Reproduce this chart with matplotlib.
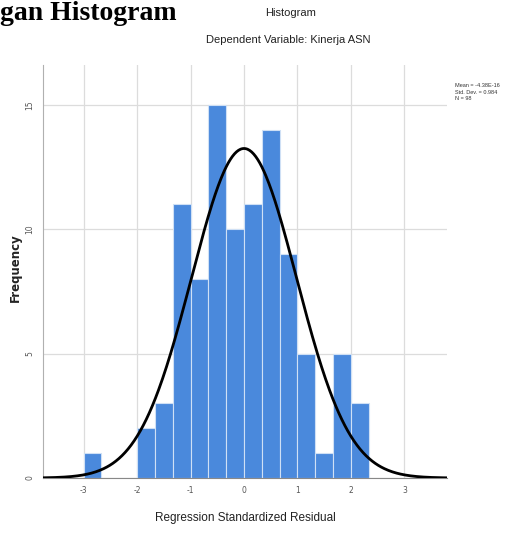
import numpy as np
import matplotlib
matplotlib.use("Agg")
import matplotlib.pyplot as plt

# bin edges (width 1/3) and counts
bin_left = [-3.0, -2.0, -5/3, -4/3, -1.0, -2/3, -1/3, 0.0, 1/3, 2/3, 1.0, 4/3, 5/3, 2.0]
counts = [1, 2, 3, 11, 8, 15, 10, 11, 14, 9, 5, 1, 5, 3]
bin_width = 1/3

mean_val = 0.0
sd_val = 0.984
n_val = 98

x_ticks = [-3, -2, -1, 0, 1, 2, 3]
y_ticks = [0, 5, 10, 15]

sans = ['Liberation Sans Narrow', 'Liberation Sans', 'DejaVu Sans']

fig = plt.figure(figsize=(5.09, 5.35), dpi=100)
ax = fig.add_axes([0.0845, 0.1065, 0.794, 0.772])

ax.bar(bin_left, counts, width=bin_width, align='edge',
       color='#4a89dc', edgecolor='#cfe0f5', linewidth=0.8, zorder=2)

# normal curve scaled to counts
xs = np.linspace(-3.76, 3.8, 400)
ys = n_val * bin_width * np.exp(-0.5 * ((xs - mean_val) / sd_val) ** 2) / (sd_val * np.sqrt(2 * np.pi))
ax.plot(xs, ys, color='black', lw=2, zorder=3)

ax.set_xlim(-3.76, 3.8)
ax.set_ylim(0, 16.6)
ax.set_xticks(x_ticks)
ax.set_yticks(y_ticks)
ax.set_xticklabels([str(t) for t in x_ticks], fontsize=5.5, color='#555555')
ax.set_yticklabels([str(t) for t in y_ticks], fontsize=5.5, color='#555555',
                   rotation=90, va='center')
ax.tick_params(length=0, pad=6)
ax.grid(True, color='#dcdcdc', lw=0.9, zorder=0)
ax.set_axisbelow(True)
for s in ['top', 'right']:
    ax.spines[s].set_visible(False)
ax.spines['left'].set_color('#b0b0b0')
ax.spines['bottom'].set_color('#888888')

ax.set_xlabel('Regression Standardized Residual', fontsize=8.5, family=sans,
              color='#222222', labelpad=12)
fig.text(15 / 509, 0.5, 'Frequency', rotation=90, ha='center', va='center',
         fontsize=8.5, fontweight='bold', color='#222222')

fig.text(0.57, 0.975, 'Histogram', ha='center', va='center', fontsize=8,
         family=sans, color='#222222')
fig.text(0.566, 0.925, 'Dependent Variable: Kinerja ASN', ha='center', va='center',
         fontsize=8, family=sans, color='#222222')

fig.text(0.893, 0.828, 'Mean = -4.38E-16\nStd. Dev. = 0.984\nN = 98',
         ha='left', va='center', fontsize=4, family=sans, color='#333333',
         linespacing=1.3)

# heading of the document at the top-left corner
fig.text(0.0, 1 - 19.5 / 535, 'gan Histogram', ha='left', va='baseline', fontsize=20,
         fontweight='bold', family='Liberation Serif', color='black')

fig.savefig('out.png', dpi=100)
